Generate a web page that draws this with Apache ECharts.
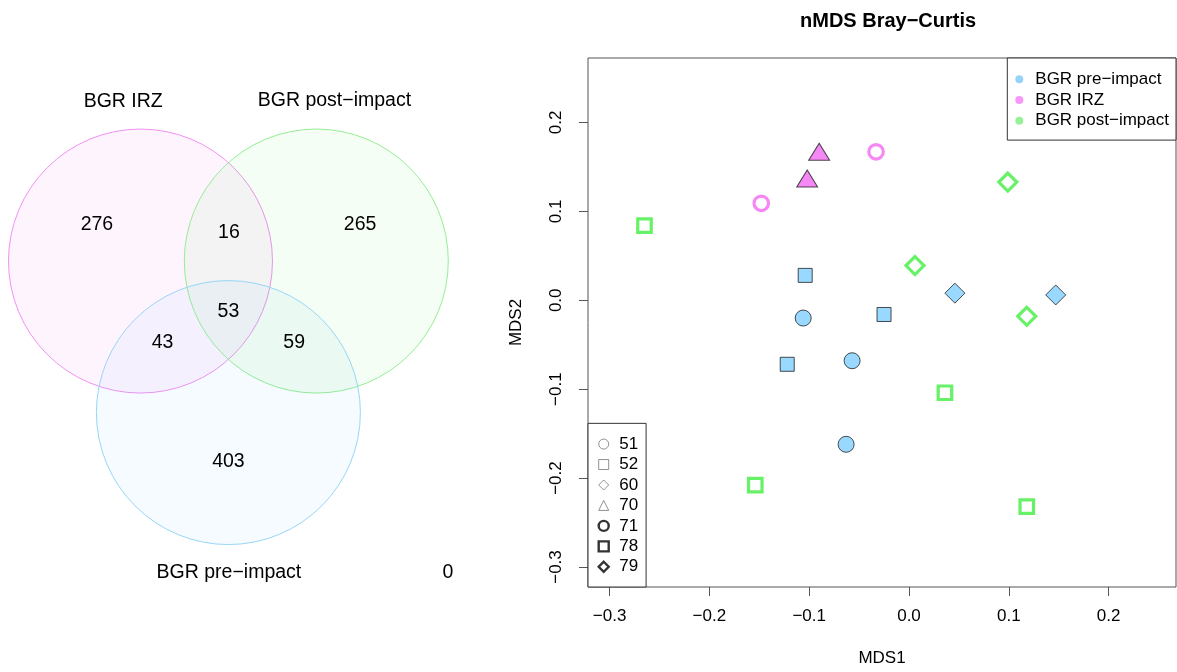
<!DOCTYPE html>
<html>
<head>
<meta charset="utf-8">
<script src="https://cdn.jsdelivr.net/npm/echarts@6/dist/echarts.min.js"></script>
<style>
html,body{margin:0;padding:0;background:#fff;}
#chart{width:1177px;height:672px;}
</style>
</head>
<body>
<div id="chart"></div>
<script>
// ---------------- Venn data ----------------
const vennSets = ['BGR IRZ', 'BGR post\u2212impact', 'BGR pre\u2212impact'];
const vennRegions = ['IRZ only', 'post only', 'IRZ & post', 'all three', 'IRZ & pre', 'post & pre', 'pre only', 'none'];
const vennCounts = [276, 265, 16, 53, 43, 59, 403, 0];

// ---------------- nMDS data ----------------
const groups = ['BGR pre\u2212impact', 'BGR IRZ', 'BGR post\u2212impact'];
const siteCodes = ['51', '52', '60', '70', '71', '78', '79'];
const sampleSite  = ['51','51','51','52','52','52','60','60','70','70','71','71','78','78','78','78','79','79','79'];
const sampleGroup = [0,0,0,0,0,0,0,0,1,1,1,1,2,2,2,2,2,2,2];
const mds1 = [-0.106,-0.057,-0.063,-0.104,-0.025,-0.122, 0.046, 0.147,-0.090,-0.102,-0.033,-0.148,-0.265, 0.036,-0.154, 0.118, 0.099, 0.006, 0.118];
const mds2 = [-0.020,-0.068,-0.162, 0.028,-0.016,-0.072, 0.008, 0.006, 0.167, 0.137, 0.167, 0.109, 0.084,-0.104,-0.208,-0.232, 0.133, 0.039,-0.018];
const xTicks = [-0.3, -0.2, -0.1, 0.0, 0.1, 0.2];
const yTicks = [-0.3, -0.2, -0.1, 0.0, 0.1, 0.2];

// ---------------- layout / styles ----------------
const vennLayout = {
  circles: [[-0.666, 0.383], [0.666, 0.383], [0, -0.765]],
  radius: 1,
  countPos: [[-0.996,0.659],[0.998,0.659],[0.004,0.596],[0,0.002],[-0.499,-0.233],[0.498,-0.233],[0,-1.133],[1.663,-1.98]],
  setPos: [[-0.797,1.593],[0.803,1.601],[0.004,-1.98]]
};
const vennStroke = ['#F291F2', '#95EE95', '#98D6F7'];
const vennFill = ['rgba(240,90,240,0.065)', 'rgba(70,235,70,0.06)', 'rgba(110,190,245,0.065)'];

const groupColor = ['#80D0FF', '#F26AF2', '#40EE40'];
const groupDot = ['#7CC8F6', '#F87CF8', '#7EEE7E'];
const siteSymbol = {'51':'circle','52':'rect','60':'diamond','70':'triangle','71':'circle','78':'rect','79':'diamond'};
const siteSize = {'51':16,'52':14,'60':20,'70':[21,17],'71':14.5,'78':13.5,'79':18};
const siteOpen = {'51':false,'52':false,'60':false,'70':false,'71':true,'78':true,'79':true};
const FONT = '"Liberation Sans", Arial, sans-serif';
const minus = v => v.toFixed(1).replace('-', '\u2212');

const series = [];

// Venn circles
series.push({
  type: 'custom', xAxisIndex: 0, yAxisIndex: 0, silent: true,
  data: vennLayout.circles.map(c => [c[0], c[1], vennLayout.radius]),
  renderItem: (params, api) => {
    const c = api.coord([api.value(0), api.value(1)]);
    const r = api.size([api.value(2), 0])[0];
    return {type: 'circle', shape: {cx: c[0], cy: c[1], r: r},
      style: {fill: vennFill[params.dataIndex], stroke: vennStroke[params.dataIndex], lineWidth: 1}};
  }
});
// Venn counts
series.push({
  type: 'custom', xAxisIndex: 0, yAxisIndex: 0, silent: true, z: 5,
  data: vennCounts.map((v, i) => [vennLayout.countPos[i][0], vennLayout.countPos[i][1], v]),
  renderItem: (params, api) => {
    const c = api.coord([api.value(0), api.value(1)]);
    return {type: 'text', x: c[0], y: c[1],
      style: {text: String(api.value(2)), fill: '#000', fontSize: 19.5, fontFamily: FONT, align: 'center', verticalAlign: 'middle'}};
  }
});
// Venn set names
series.push({
  type: 'custom', xAxisIndex: 0, yAxisIndex: 0, silent: true, z: 5,
  data: vennSets.map((s, i) => [vennLayout.setPos[i][0], vennLayout.setPos[i][1]]),
  renderItem: (params, api) => {
    const c = api.coord([api.value(0), api.value(1)]);
    return {type: 'text', x: c[0], y: c[1],
      style: {text: vennSets[params.dataIndex], fill: '#000', fontSize: 19.5, fontFamily: FONT, align: 'center', verticalAlign: 'middle'}};
  }
});

// nMDS points, one series per site code
siteCodes.forEach(s => {
  const data = [];
  sampleSite.forEach((site, i) => {
    if (site !== s) return;
    const g = sampleGroup[i];
    const style = siteOpen[s]
      ? {color: 'rgba(0,0,0,0)', borderColor: groupColor[g], borderWidth: 3.2}
      : {color: groupColor[g], borderColor: '#222', borderWidth: 1};
    data.push({value: [mds1[i], mds2[i]], itemStyle: style});
  });
  series.push({
    type: 'scatter', name: s, xAxisIndex: 1, yAxisIndex: 1,
    symbol: siteSymbol[s], symbolSize: siteSize[s],
    itemStyle: {color: '#888'},
    emphasis: {disabled: true},
    data: data
  });
});
// group legend carriers
groups.forEach((g, i) => {
  series.push({type: 'scatter', name: g, xAxisIndex: 1, yAxisIndex: 1, itemStyle: {color: groupDot[i]}, data: []});
});

const siteLegendStyle = s => siteOpen[s]
  ? {color: '#fff', borderColor: '#000', borderWidth: 2.4}
  : {color: '#fff', borderColor: '#777', borderWidth: 1};

const option = {
  animation: false,
  backgroundColor: '#fff',
  textStyle: {fontFamily: FONT},
  title: {
    text: 'nMDS Bray\u2212Curtis', left: 795, top: 6,
    textStyle: {fontSize: 20, fontWeight: 'bold', color: '#000', fontFamily: FONT}
  },
  grid: [
    {left: 4, top: 8, width: 462, height: 567.6, show: false},
    {left: 588, top: 58, width: 588, height: 529, show: true, borderColor: '#555', borderWidth: 1, backgroundColor: 'rgba(0,0,0,0)'}
  ],
  xAxis: [
    {type: 'value', gridIndex: 0, min: -1.7, max: 1.8, show: false},
    {type: 'value', gridIndex: 1, min: -0.3216, max: 0.2675,
      axisLine: {show: false, onZero: false}, splitLine: {show: false},
      axisTick: {show: true, length: 9, lineStyle: {color: '#555'}, customValues: xTicks},
      axisLabel: {customValues: xTicks, formatter: minus, fontSize: 17, color: '#000', margin: 21, fontFamily: FONT},
      name: 'MDS1', nameLocation: 'middle', nameGap: 63,
      nameTextStyle: {fontSize: 17, color: '#000', fontFamily: FONT}}
  ],
  yAxis: [
    {type: 'value', gridIndex: 0, min: -2, max: 2.3, show: false},
    {type: 'value', gridIndex: 1, min: -0.3225, max: 0.2725,
      axisLine: {show: false, onZero: false}, splitLine: {show: false},
      axisTick: {show: true, length: 9, lineStyle: {color: '#555'}, customValues: yTicks},
      axisLabel: {customValues: yTicks, formatter: minus, fontSize: 17, color: '#000', margin: 23, rotate: 90, fontFamily: FONT},
      name: 'MDS2', nameLocation: 'middle', nameGap: 63, nameRotate: 90,
      nameTextStyle: {fontSize: 17, color: '#000', fontFamily: FONT}}
  ],
  legend: [
    {
      orient: 'vertical', right: 1, top: 58, padding: [11, 7, 9, 8],
      itemWidth: 8, itemHeight: 8, itemGap: 0, selectedMode: false,
      borderColor: '#333', borderWidth: 1, backgroundColor: '#fff',
      textStyle: {fontSize: 17, lineHeight: 20.7, color: '#000', fontFamily: FONT, padding: [0, 0, 0, 7]},
      data: groups.map((g, i) => ({name: g, icon: 'circle', itemStyle: {color: groupDot[i], borderWidth: 0}}))
    },
    {
      orient: 'vertical', left: 588, bottom: 85, padding: [10.5, 8, 10, 9.5],
      itemWidth: 10, itemHeight: 10, itemGap: 0, selectedMode: false,
      borderColor: '#333', borderWidth: 1, backgroundColor: '#fff',
      textStyle: {fontSize: 17, lineHeight: 20.45, color: '#000', fontFamily: FONT, padding: [0, 0, 0, 5.5]},
      data: siteCodes.map(s => ({name: s, icon: siteSymbol[s], itemStyle: siteLegendStyle(s)}))
    }
  ],
  series: series
};

const chart = echarts.init(document.getElementById('chart'), null, {renderer: 'canvas'});
chart.setOption(option);
</script>
</body>
</html>
